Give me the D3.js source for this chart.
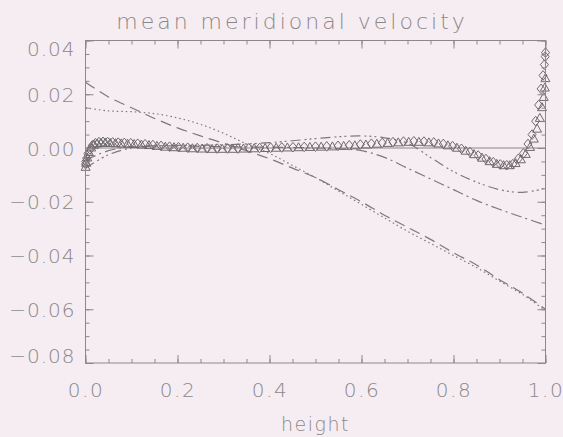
<!DOCTYPE html>
<html>
<head>
<meta charset="utf-8">
<script src="https://cdn.jsdelivr.net/npm/d3@7"></script>
<style>
  html, body { margin: 0; padding: 0; background: #f6edf2; }
  svg text { font-family: "DejaVu Sans", "Noto Sans", sans-serif; font-weight: 200; fill: #8b8789; }
  .axis path { display: none; }
  .axis line { stroke: #8c878b; stroke-width: 1; }
</style>
</head>
<body>
<svg id="chart" width="563" height="437"></svg>
<script>
// tick labels
const xTicks = [0.0, 0.2, 0.4, 0.6, 0.8, 1.0];
const yTicks = [0.04, 0.02, 0.00, -0.02, -0.04, -0.06, -0.08];

// collocation heights of the marker series (dense near both walls)
const heightsDiamond = [0, 0.0006, 0.0024, 0.0054, 0.0096, 0.0150, 0.0215, 0.0292, 0.0381, 0.0480,
  0.0590, 0.0711, 0.0843, 0.0984, 0.1135, 0.1295, 0.1464, 0.1642, 0.1828, 0.2022,
  0.2222, 0.2429, 0.2643, 0.2862, 0.3087, 0.3316, 0.3549, 0.3785, 0.4025, 0.4266,
  0.4510, 0.4755, 0.5000, 0.5245, 0.5490, 0.5734, 0.5975, 0.6215, 0.6451, 0.6684,
  0.6913, 0.7138, 0.7357, 0.7571, 0.7778, 0.7979, 0.8172, 0.8358, 0.8536, 0.8705,
  0.8865, 0.9016, 0.9157, 0.9289, 0.9410, 0.9520, 0.9619, 0.9708, 0.9785, 0.9850,
  0.9904, 0.9946, 0.9976, 0.9994, 1.0];
const diamondValues = [-0.0060, -0.0050, -0.0038, -0.0020, -0.0005, 0.0010, 0.0018, 0.0022, 0.0023, 0.0022,
  0.0021, 0.0020, 0.0019, 0.0018, 0.0016, 0.0014, 0.0011, 0.0008, 0.0005, 0.0003,
  0.0001, 0.0000, -0.0001, -0.0002, -0.0002, -0.0002, -0.0001, 0.0000, 0.0001, 0.0002,
  0.0003, 0.0004, 0.0005, 0.0006, 0.0008, 0.0010, 0.0013, 0.0016, 0.0019, 0.0022,
  0.0024, 0.0025, 0.0024, 0.0021, 0.0015, 0.0007, -0.0003, -0.0015, -0.0028, -0.0041,
  -0.0053, -0.0061, -0.0064, -0.0060, -0.0040, -0.0020, 0.0015, 0.0050, 0.0100, 0.0160,
  0.0220, 0.0270, 0.0310, 0.0340, 0.0355];

const heightsTriangle = [0.0003, 0.0015, 0.0039, 0.0075, 0.0123, 0.0183, 0.0254, 0.0336, 0.0430, 0.0535,
  0.0651, 0.0777, 0.0913, 0.1059, 0.1215, 0.1380, 0.1553, 0.1735, 0.1925, 0.2122,
  0.2326, 0.2536, 0.2753, 0.2974, 0.3201, 0.3432, 0.3667, 0.3905, 0.4145, 0.4388,
  0.4632, 0.4877, 0.5123, 0.5368, 0.5612, 0.5855, 0.6095, 0.6333, 0.6568, 0.6799,
  0.7026, 0.7247, 0.7464, 0.7674, 0.7878, 0.8075, 0.8265, 0.8447, 0.8620, 0.8785,
  0.8941, 0.9087, 0.9223, 0.9349, 0.9465, 0.9570, 0.9664, 0.9746, 0.9817, 0.9877,
  0.9925, 0.9961, 0.9985, 0.9997];
const triangleValues = [-0.0070, -0.0055, -0.0035, -0.0015, 0.0002, 0.0012, 0.0017, 0.0019, 0.0020, 0.0019,
  0.0018, 0.0017, 0.0016, 0.0015, 0.0013, 0.0011, 0.0008, 0.0005, 0.0003, 0.0001,
  -0.0001, -0.0002, -0.0003, -0.0003, -0.0003, -0.0002, -0.0001, 0.0000, 0.0001, 0.0002,
  0.0003, 0.0004, 0.0005, 0.0006, 0.0008, 0.0010, 0.0013, 0.0016, 0.0019, 0.0021,
  0.0023, 0.0023, 0.0021, 0.0017, 0.0010, 0.0001, -0.0010, -0.0023, -0.0036, -0.0049,
  -0.0059, -0.0064, -0.0064, -0.0056, -0.0042, -0.0022, 0.0004, 0.0035, 0.0072, 0.0112,
  0.0152, 0.0190, 0.0225, 0.0260];

// heights of the smooth curves
const lineHeights = [0, 0.05, 0.1, 0.15, 0.2, 0.25, 0.3, 0.35, 0.4, 0.45, 0.5,
  0.55, 0.6, 0.65, 0.7, 0.75, 0.8, 0.85, 0.9, 0.95, 1.0];
const dashedValues = [0.0245, 0.0190, 0.0150, 0.0110, 0.0075, 0.0045, 0.0018, -0.0010, -0.0040, -0.0075, -0.0110,
  -0.0155, -0.0200, -0.0250, -0.0295, -0.0340, -0.0390, -0.0435, -0.0490, -0.0540, -0.0600];
const dottedValues = [0.0150, 0.0138, 0.0135, 0.0128, 0.0112, 0.0088, 0.0055, 0.0015, -0.0020, -0.0065, -0.0110,
  -0.0160, -0.0210, -0.0260, -0.0310, -0.0355, -0.0400, -0.0445, -0.0495, -0.0545, -0.0605];
const dashDotValues = [-0.0045, -0.0010, 0.0005, 0.0008, 0.0008, 0.0006, 0.0005, 0.0004, 0.0003, 0.0002, 0.0000,
  -0.0003, -0.0010, -0.0035, -0.0075, -0.0115, -0.0155, -0.0195, -0.0228, -0.0258, -0.0287];
const dashDotsValues = [-0.0075, -0.0025, 0.0000, 0.0008, 0.0010, 0.0010, 0.0012, 0.0015, 0.0020, 0.0027, 0.0035,
  0.0042, 0.0045, 0.0038, 0.0018, -0.0035, -0.0088, -0.0127, -0.0155, -0.0165, -0.0150];

const svg = d3.select("#chart");
const margin = {top: 40.5, right: 17.5, bottom: 74, left: 85.5};
const width = +svg.attr("width") - margin.left - margin.right;
const height = +svg.attr("height") - margin.top - margin.bottom;

const xScale = d3.scaleLinear().domain([0, 1]).range([0, width]);
const yScale = d3.scaleLinear().domain([-0.08, 0.04]).range([height, 0]);

const g = svg.append("g")
    .attr("transform", "translate(" + margin.left + "," + margin.top + ")");

const ink = "#7d787b";

// zero line
g.append("line")
    .attr("x1", xScale(0)).attr("x2", xScale(1))
    .attr("y1", yScale(0)).attr("y2", yScale(0))
    .style("stroke", "#8a8589").style("stroke-width", 1);

// curves
const line = d3.line()
    .curve(d3.curveCatmullRom)
    .x((d) => xScale(d[0]))
    .y((d) => yScale(d[1]));

const curves = [
  {values: dashedValues, dash: "11,6"},
  {values: dottedValues, dash: "1.5,3"},
  {values: dashDotValues, dash: "11,4,2,4"},
  {values: dashDotsValues, dash: "10,4,2,3,2,3,2,4"}
];
curves.forEach((c) => {
  g.append("path")
      .datum(lineHeights.map((h, i) => [h, c.values[i]]))
      .attr("d", line)
      .style("fill", "none")
      .style("stroke", ink)
      .style("stroke-width", 1.2)
      .style("stroke-dasharray", c.dash);
});

// markers
g.selectAll(".tri")
    .data(heightsTriangle.map((h, i) => [h, triangleValues[i]]))
  .enter().append("path")
    .attr("class", "tri")
    .attr("d", "M0,-4.5L4.5,3.5L-4.5,3.5Z")
    .attr("transform", (d) => "translate(" + xScale(d[0]) + "," + yScale(d[1]) + ")")
    .style("fill", "none").style("stroke", "#6f6a6d").style("stroke-width", 1);

g.selectAll(".dia")
    .data(heightsDiamond.map((h, i) => [h, diamondValues[i]]))
  .enter().append("path")
    .attr("class", "dia")
    .attr("d", "M0,-4.8L4,0L0,4.8L-4,0Z")
    .attr("transform", (d) => "translate(" + xScale(d[0]) + "," + yScale(d[1]) + ")")
    .style("fill", "none").style("stroke", "#6f6a6d").style("stroke-width", 1);

// frame
g.append("rect")
    .attr("width", width).attr("height", height)
    .style("fill", "none").style("stroke", "#8c878b").style("stroke-width", 1);

// axes, ticks pointing inward
const xMinor = d3.range(0, 1.0001, 0.05);
const yMinor = d3.range(-0.08, 0.04001, 0.005);

function addAxis(axis, tx, ty) {
  return g.append("g").attr("class", "axis")
      .attr("transform", "translate(" + tx + "," + ty + ")")
      .call(axis);
}

addAxis(d3.axisBottom(xScale).tickValues(xMinor).tickSize(-4).tickFormat(""), 0, height);
addAxis(d3.axisTop(xScale).tickValues(xMinor).tickSize(-4).tickFormat(""), 0, 0);
addAxis(d3.axisLeft(yScale).tickValues(yMinor).tickSize(-4).tickFormat(""), 0, 0);
addAxis(d3.axisRight(yScale).tickValues(yMinor).tickSize(-4).tickFormat(""), width, 0);
addAxis(d3.axisTop(xScale).tickValues(xTicks).tickSize(-8).tickFormat(""), 0, 0);
addAxis(d3.axisRight(yScale).tickValues(yTicks).tickSize(-8).tickFormat(""), width, 0);

const xAxis = addAxis(d3.axisBottom(xScale).tickValues(xTicks).tickSize(-8).tickPadding(20)
    .tickFormat(d3.format(".1f")), 0, height);
xAxis.selectAll("text").style("font-size", "20px").style("letter-spacing", "1.5px").attr("dy", "0.71em");

const yAxis = addAxis(d3.axisLeft(yScale).tickValues(yTicks).tickSize(-8).tickPadding(10)
    .tickFormat((d) => d3.format(".2f")(d).replace("-", "\u2212")), 0, 0);
yAxis.selectAll("text").style("font-size", "20px").style("letter-spacing", "1px")
    .attr("dy", (d, i) => i === 0 ? "0.75em" : (i === yTicks.length - 1 ? "-0.05em" : "0.36em"));

// titles
svg.append("text")
    .attr("x", 292).attr("y", 29)
    .attr("text-anchor", "middle")
    .style("font-size", "22px")
    .style("letter-spacing", "3px")
    .text("mean meridional velocity");

svg.append("text")
    .attr("x", margin.left + width / 2).attr("y", 431)
    .attr("text-anchor", "middle")
    .style("font-size", "19px")
    .style("letter-spacing", "1.5px")
    .text("height");
</script>
</body>
</html>
